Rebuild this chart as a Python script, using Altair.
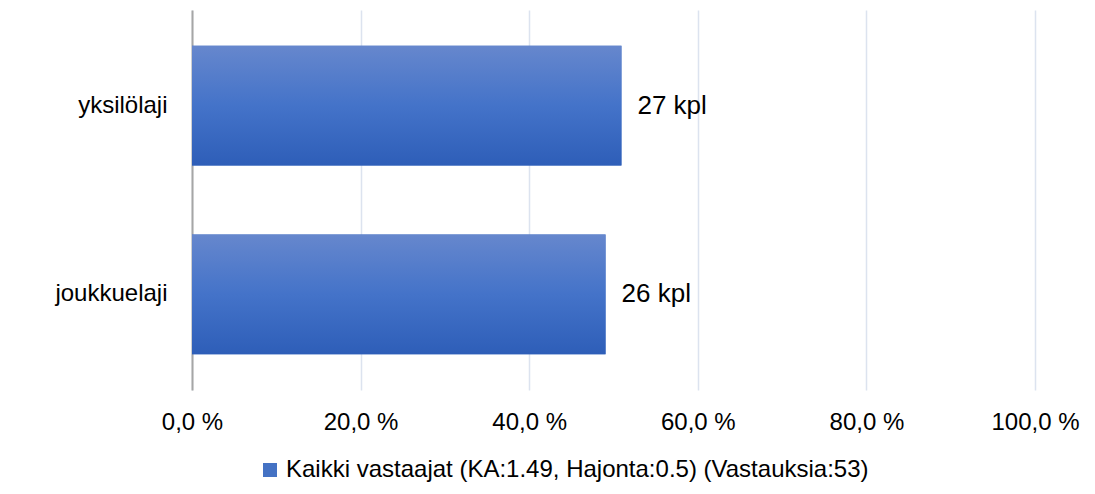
import altair as alt
import pandas as pd

categories = ["yksilölaji", "joukkuelaji"]
counts = [27, 26]
total_responses = 53
series_name = "Kaikki vastaajat (KA:1.49, Hajonta:0.5) (Vastauksia:53)"
x_ticks = [0, 20, 40, 60, 80, 100]

df = pd.DataFrame({"cat": categories, "n": counts})
df["pct"] = df["n"] / total_responses * 100
df["label"] = df["n"].astype(str) + " kpl"
df["series"] = series_name

FONT = "Liberation Sans"

grad = alt.Gradient(
    gradient="linear", x1=0, y1=0, x2=0, y2=1,
    stops=[
        alt.GradientStop(color="#6687cd", offset=0),
        alt.GradientStop(color="#4473c9", offset=0.5),
        alt.GradientStop(color="#2e5eb8", offset=1),
    ],
)

x = alt.X(
    "pct:Q",
    scale=alt.Scale(domain=[0, 100], nice=False),
    axis=alt.Axis(
        values=x_ticks,
        labelExpr="replace(format(datum.value, '.1f'), '.', ',') + ' %'",
        title=None, domain=False, ticks=False, grid=True,
        gridColor="#dce3ef", gridWidth=1.5,
        labelFont=FONT, labelFontSize=24, labelColor="#000000",
        labelPadding=20, labelFlush=False, labelOverlap=False,
    ),
)
y = alt.Y(
    "cat:N",
    sort=categories,
    scale=alt.Scale(paddingInner=0.365, paddingOuter=0.19),
    axis=alt.Axis(
        title=None, ticks=False, domainColor="#a6a6a6", domainWidth=2,
        labelFont=FONT, labelFontSize=24, labelColor="#000000",
        labelPadding=25, grid=False,
    ),
)

base = alt.Chart(df)

legend_layer = base.mark_bar().encode(
    x=x, y=y,
    color=alt.Color(
        "series:N",
        scale=alt.Scale(range=["#4472c4"]),
        legend=alt.Legend(
            title=None, orient="none", legendX=66, legendY=448,
            symbolType="square", symbolSize=196, symbolStrokeWidth=0,
            labelFont=FONT, labelFontSize=24, labelColor="#000000",
            labelLimit=1000, labelOffset=4,
        ),
    ),
)

bars = base.mark_bar(color=grad).encode(x=x, y=y)

labels = base.mark_text(
    align="left", baseline="middle", dx=16, font=FONT, fontSize=26, color="#000000"
).encode(x=x, y=y, text="label:N")

chart = alt.layer(legend_layer, bars, labels).properties(
    width=843, height=380,
    autosize=alt.AutoSizeParams(type="none"),
    padding={"left": 184, "top": 2, "right": 52, "bottom": 96},
).configure_view(stroke=None)

chart.save("out.html", embed_options={"renderer": "svg", "actions": False})
